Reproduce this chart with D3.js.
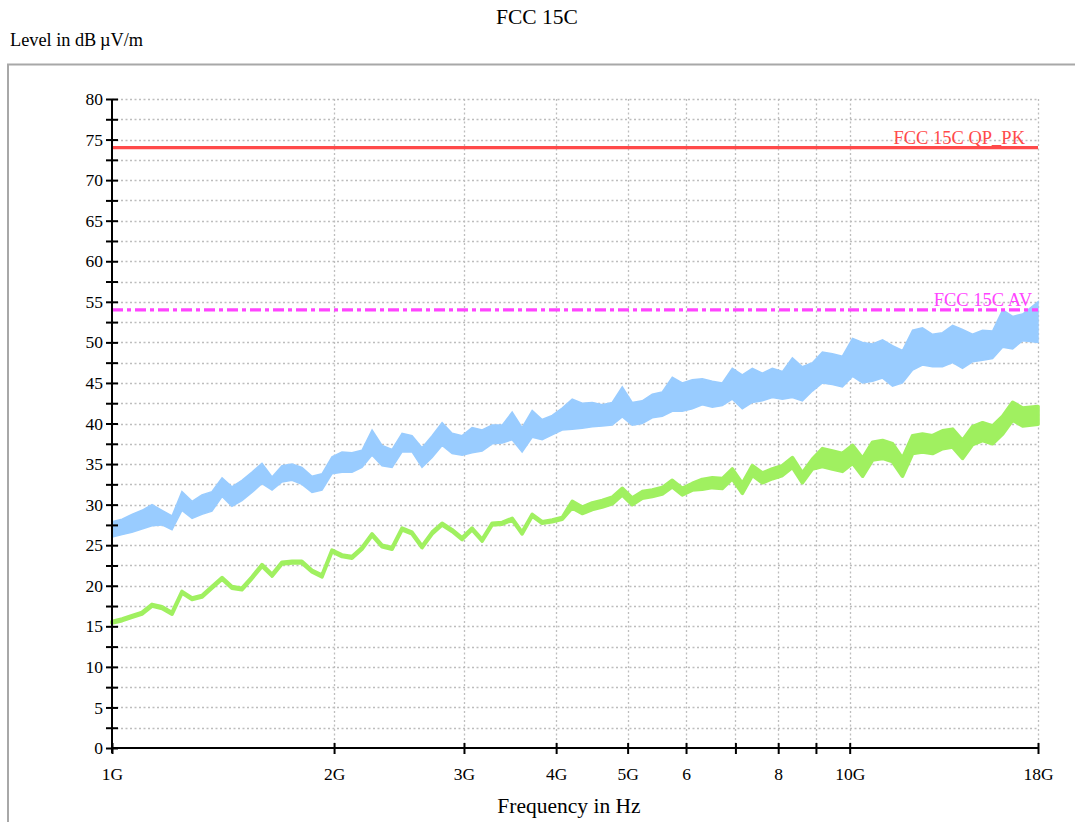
<!DOCTYPE html>
<html><head><meta charset="utf-8">
<script src="https://cdn.jsdelivr.net/npm/d3@7"></script>
<style>
body{margin:0;background:#fff;}
svg{display:block;}
text{font-family:"Liberation Serif","Times New Roman",serif;}
</style></head>
<body>
<svg id="chart" width="1075" height="822"></svg>
<script>
// ---- data ----
const freqGHz = [1.000,1.032,1.064,1.098,1.133,1.169,1.206,1.244,1.284,1.324,1.366,1.410,1.454,1.500,1.548,1.597,1.648,1.700,1.754,1.809,1.867,1.926,1.987,2.050,2.115,2.182,2.252,2.323,2.397,2.473,2.551,2.632,2.716,2.802,2.891,2.983,3.077,3.175,3.276,3.380,3.487,3.597,3.712,3.829,3.951,4.076,4.206,4.339,4.477,4.619,4.765,4.917,5.072,5.233,5.400,5.571,5.748,5.930,6.118,6.312,6.513,6.719,6.932,7.152,7.380,7.614,7.855,8.105,8.362,8.627,8.901,9.183,9.475,9.775,10.09,10.41,10.74,11.08,11.43,11.79,12.17,12.55,12.95,13.36,13.79,14.22,14.67,15.14,15.62,16.12,16.63,17.16,18.0];
const peakHi = [27.9,28.2,28.8,29.3,30.0,29.3,28.6,31.6,30.4,31.2,31.6,33.3,32.2,33.0,34.0,35.1,33.4,34.8,35.0,34.6,33.5,33.8,35.9,36.5,36.4,36.7,39.2,37.3,36.8,38.8,38.5,37.0,38.5,40.1,38.8,38.5,39.5,39.2,39.8,39.8,41.4,39.5,41.6,40.5,41.0,41.9,43.0,42.5,42.6,42.3,42.6,44.5,42.6,42.8,43.6,43.9,45.7,45.0,45.4,45.5,45.2,45.0,46.8,46.0,46.8,46.2,46.8,46.4,48.1,47.0,47.5,48.8,48.6,48.3,50.5,50.0,49.8,50.3,49.6,49.0,51.5,51.8,51.0,51.2,52.1,51.6,51.0,51.5,51.4,54.0,53.2,53.5,55.0];
const peakLo = [26.0,26.3,26.6,27.0,27.4,27.5,26.9,29.3,28.3,28.8,29.2,31.0,29.8,30.5,31.5,32.6,31.8,32.8,33.0,32.5,31.5,31.8,33.8,34.0,34.0,34.6,36.1,34.8,34.6,36.5,36.5,34.6,35.8,37.3,36.3,36.1,36.4,36.6,37.5,37.6,38.0,36.5,38.3,38.0,38.6,39.2,39.3,39.4,39.6,39.7,39.8,40.8,39.8,40.0,40.7,40.9,41.5,41.5,41.8,42.3,42.0,42.2,43.0,41.8,42.6,42.8,43.2,43.0,43.2,42.8,44.0,45.0,44.8,44.5,45.8,45.0,45.2,45.6,44.6,45.0,46.6,47.2,47.0,47.0,47.5,46.8,47.6,47.8,48.0,49.4,49.2,50.2,50.0];
const avg = [15.5,15.8,16.2,16.6,17.6,17.3,16.6,19.2,18.4,18.7,19.8,20.9,19.8,19.6,21.0,22.5,21.3,22.8,22.9,22.9,21.8,21.2,24.3,23.7,23.5,24.6,26.3,24.9,24.6,27.0,26.5,24.8,26.5,27.6,26.8,25.8,27.0,25.6,27.6,27.7,28.2,26.5,28.7,27.8,28.0,28.3,30.0,29.3,29.8,30.1,30.5,31.6,30.4,31.2,31.4,31.7,32.6,31.6,32.2,32.5,32.7,32.6,33.8,32.0,34.2,33.3,33.8,34.2,35.2,33.3,35.0,35.8,35.5,35.2,36.2,34.6,36.6,36.8,36.4,34.6,37.4,37.6,37.4,38.0,38.2,36.8,38.5,39.0,38.6,39.8,41.5,40.8,41.0];
const avgSpread = [0.1,0.1,0.1,0.1,0.1,0.1,0.1,0.1,0.1,0.1,0.1,0.1,0.1,0.1,0.1,0.1,0.1,0.1,0.1,0.1,0.1,0.1,0.1,0.1,0.1,0.1,0.1,0.1,0.1,0.1,0.1,0.1,0.1,0.1,0.1,0.1,0.1,0.1,0.1,0.1,0.1,0.1,0.1,0.1,0.1,0.1,0.4,0.4,0.4,0.4,0.4,0.4,0.4,0.4,0.4,0.4,0.4,0.4,0.4,0.6,0.6,0.6,0.6,0.6,0.6,0.6,0.6,0.6,0.6,0.6,0.6,1.1,1.1,1.1,1.1,1.1,1.1,1.1,1.1,1.1,1.1,1.1,1.1,1.1,1.1,1.1,1.1,1.1,1.1,1.1,1.1,1.1,1.1];
const limitQP = 74;
const limitAV = 54;
const limitNames = ["FCC 15C QP_PK","FCC 15C AV"];
const xTickValues = [1,2,3,4,5,6,7,8,9,10,18];
const xTickLabels = ["1G","2G","3G","4G","5G","6","","8","","10G","18G"];
const yTickValues = d3.range(0, 80.1, 2.5);

// ---- layout ----
const svg = d3.select("#chart");
const L = 112, R = 1038, T = 99, B = 748;
const x = d3.scaleLog().domain([1, 18]).range([L, R]);
const y = d3.scaleLinear().domain([0, 80]).range([B, T]);

// frame
svg.append("rect").attr("x",8).attr("y",64.5).attr("width",1080).attr("height",780)
  .attr("fill","none").attr("stroke","#a8a8a8").attr("stroke-width",2);

// titles
svg.append("text").attr("x",537).attr("y",24).attr("text-anchor","middle")
  .attr("font-size",21.5).text("FCC 15C");
svg.append("text").attr("x",10).attr("y",46).attr("font-size",18.3).text("Level in dB\u2009\u00b5V/m");
svg.append("text").attr("x",569).attr("y",813).attr("text-anchor","middle")
  .attr("font-size",21.5).text("Frequency in Hz");

// grid
const grid = svg.append("g").attr("stroke","#bdbdbd").attr("stroke-width",1.3).attr("stroke-dasharray","2,2.5");
yTickValues.filter(v => v > 0).forEach(v => {
  grid.append("line").attr("x1",L).attr("x2",R).attr("y1",Math.round(y(v))+0.5).attr("y2",Math.round(y(v))+0.5);
});
xTickValues.filter(v => v > 1).forEach(v => {
  grid.append("line").attr("x1",Math.round(x(v))+0.5).attr("x2",Math.round(x(v))+0.5).attr("y1",T).attr("y2",B);
});

// traces
const idx = d3.range(freqGHz.length);
svg.append("path").datum(idx)
  .attr("fill","#99ccff").attr("stroke","#99ccff").attr("stroke-width",1.5)
  .attr("d", d3.area().x(i => x(freqGHz[i])).y0(i => y(peakLo[i])).y1(i => y(peakHi[i])));
svg.append("path").datum(idx)
  .attr("fill","#a0f060").attr("stroke","#a0f060").attr("stroke-width",3.6).attr("stroke-linejoin","round")
  .attr("d", d3.area().x(i => x(freqGHz[i])).y0(i => y(avg[i]-avgSpread[i])).y1(i => y(avg[i]+avgSpread[i])));

// limit lines
svg.append("line").attr("x1",L).attr("x2",R).attr("y1",y(limitQP)).attr("y2",y(limitQP))
  .attr("stroke","#ff4a4a").attr("stroke-width",3.2);
svg.append("line").attr("x1",L).attr("x2",R).attr("y1",y(limitAV)).attr("y2",y(limitAV))
  .attr("stroke","#ff44ff").attr("stroke-width",3.2).attr("stroke-dasharray","11,4,4,4");
svg.append("text").attr("x",1025).attr("y",y(limitQP)-4).attr("text-anchor","end")
  .attr("font-size",18.5).attr("fill","#ff4a4a").text(limitNames[0]);
svg.append("text").attr("x",1032).attr("y",y(limitAV)-4).attr("text-anchor","end")
  .attr("font-size",18.5).attr("fill","#ff44ff").text(limitNames[1]);

// axes
const yAxis = d3.axisLeft(y).tickValues(yTickValues).tickSize(6)
  .tickFormat(v => v % 5 === 0 ? String(v) : "");
const gy = svg.append("g").attr("transform",`translate(${L},0)`).call(yAxis);
gy.select(".domain").remove();
gy.selectAll(".tick line").attr("x2",-6).attr("x1",6).attr("stroke","#000").attr("stroke-width",2);
gy.selectAll(".tick text").attr("x",-9).attr("font-size",17.5).attr("font-family","Liberation Serif, serif").attr("fill","#000");
svg.append("line").attr("x1",L).attr("x2",L).attr("y1",T).attr("y2",B+5).attr("stroke","#000").attr("stroke-width",2);

const xAxis = d3.axisBottom(x).tickValues(xTickValues).tickSize(6)
  .tickFormat((v,i) => xTickLabels[i]);
const gx = svg.append("g").attr("transform",`translate(0,${B})`).call(xAxis);
gx.select(".domain").remove();
gx.selectAll(".tick line").attr("y1",-5).attr("y2",6).attr("stroke","#000").attr("stroke-width",2);
gx.selectAll(".tick text").attr("y",20).attr("font-size",17.5).attr("font-family","Liberation Serif, serif").attr("fill","#000");
svg.append("line").attr("x1",L-1).attr("x2",R).attr("y1",B).attr("y2",B).attr("stroke","#000").attr("stroke-width",2);
</script>
</body></html>
